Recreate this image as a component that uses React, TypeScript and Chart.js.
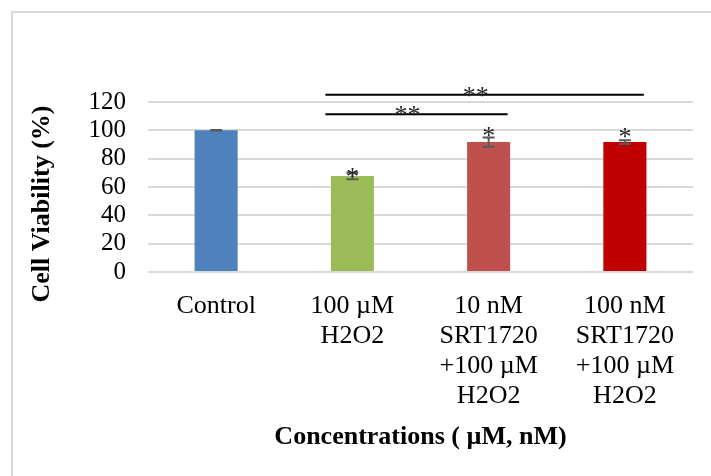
import React, { useEffect, useRef } from "react";
import { Chart, registerables } from "chart.js";

Chart.register(...registerables);

// ---- data ----
const categories: string[][] = [
  ["Control"],
  ["100 µM", "H2O2"],
  ["10 nM", "SRT1720", "+100 µM", "H2O2"],
  ["100 nM", "SRT1720", "+100 µM", "H2O2"],
];
const viability = [100, 67.8, 91.7, 91.7];
const errors = [0.2, 2.3, 3.2, 1.3];
const barColors = ["#4F81BD", "#9BBB59", "#C0504D", "#C00000"];
const starLevels: (number | null)[] = [null, 70, 99.1, 97.8];
const bracketFrom = [1, 1];
const bracketTo = [3, 2];
const bracketLevels = [125.1, 111.3];
const bracketLabels = ["**", "**"];
const yMin = 0;
const yMax = 120;
const yStep = 20;
const xTitle = "Concentrations ( µM, nM)";
const yTitle = "Cell Viability (%)";

const SERIF = '"Liberation Serif", "Times New Roman", serif';

function drawCenteredGlyph(ctx: CanvasRenderingContext2D, text: string, cx: number, cy: number) {
  const m = ctx.measureText(text);
  const asc = m.actualBoundingBoxAscent;
  const desc = m.actualBoundingBoxDescent;
  ctx.textAlign = "center";
  ctx.textBaseline = "alphabetic";
  ctx.fillText(text, cx, cy + (asc - desc) / 2);
}

const overlayPlugin = {
  id: "overlay",
  beforeDraw(chart: any) {
    const { ctx } = chart;
    ctx.save();
    ctx.fillStyle = "#ffffff";
    ctx.fillRect(0, 0, chart.width, chart.height);
    ctx.strokeStyle = "#D9D9D9";
    ctx.lineWidth = 2;
    ctx.strokeRect(12, 12, 800, 600);
    ctx.restore();
  },
  afterDraw(chart: any) {
    const { ctx } = chart;
    const xs = chart.scales.x;
    const ys = chart.scales.y;
    ctx.save();
    // error bars
    ctx.strokeStyle = "#595959";
    ctx.lineWidth = 2;
    viability.forEach((v, i) => {
      const cx = xs.getPixelForValue(i);
      const top = ys.getPixelForValue(v + errors[i]);
      const bot = ys.getPixelForValue(v - errors[i]);
      ctx.beginPath();
      ctx.moveTo(cx, top);
      ctx.lineTo(cx, bot);
      ctx.moveTo(cx - 6, top);
      ctx.lineTo(cx + 6, top);
      ctx.moveTo(cx - 6, bot);
      ctx.lineTo(cx + 6, bot);
      ctx.stroke();
    });
    // stars above bars
    ctx.fillStyle = "#262626";
    ctx.font = `26px ${SERIF}`;
    starLevels.forEach((s, i) => {
      if (s === null) return;
      drawCenteredGlyph(ctx, "*", xs.getPixelForValue(i), ys.getPixelForValue(s));
    });
    // significance brackets
    ctx.strokeStyle = "#000000";
    ctx.lineWidth = 2;
    bracketFrom.forEach((f, k) => {
      const x0 = xs.getPixelForValue(f) - 27;
      const x1 = xs.getPixelForValue(bracketTo[k]) + 19;
      const yy = ys.getPixelForValue(bracketLevels[k]);
      ctx.beginPath();
      ctx.moveTo(x0, yy);
      ctx.lineTo(x1, yy);
      ctx.stroke();
      ctx.fillStyle = "#262626";
      drawCenteredGlyph(ctx, bracketLabels[k], (x0 + x1) / 2 - 9, yy - 3);
    });
    // y axis title
    ctx.fillStyle = "#000000";
    ctx.font = `bold 26px ${SERIF}`;
    ctx.translate(42, 204);
    ctx.rotate(-Math.PI / 2);
    ctx.textAlign = "center";
    ctx.textBaseline = "middle";
    ctx.fillText(yTitle, 0, 0);
    ctx.restore();
  },
};

export default function App() {
  const canvasRef = useRef<HTMLCanvasElement | null>(null);

  useEffect(() => {
    if (!canvasRef.current) return;
    const chart = new Chart(canvasRef.current, {
      type: "bar",
      data: {
        labels: categories,
        datasets: [
          {
            data: viability,
            backgroundColor: barColors,
            borderWidth: 0,
            barPercentage: 0.316,
            categoryPercentage: 1,
          },
        ],
      },
      options: {
        responsive: false,
        animation: false,
        devicePixelRatio: 1,
        layout: { padding: { left: 0, right: 18, top: 102, bottom: 0 } },
        plugins: {
          legend: { display: false },
          tooltip: { enabled: false },
          title: { display: false },
        },
        scales: {
          x: {
            grid: { display: false, drawTicks: false },
            border: { display: false },
            ticks: {
              autoSkip: false,
              maxRotation: 0,
              minRotation: 0,
              padding: 19,
              color: "#000000",
              font: { family: SERIF, size: 26, lineHeight: 30 / 26 },
            },
            title: {
              display: true,
              text: xTitle,
              color: "#000000",
              font: { family: SERIF, size: 26, weight: "bold", lineHeight: 1.2 },
              padding: { top: 0, bottom: 23 },
            },
            afterFit: (s: any) => {
              s.height = 204;
            },
          },
          y: {
            min: yMin,
            max: yMax,
            grid: { color: "#D9D9D9", lineWidth: 2, drawTicks: false },
            border: { display: false },
            ticks: {
              stepSize: yStep,
              autoSkip: false,
              padding: 22,
              color: "#000000",
              font: { family: SERIF, size: 25 },
            },
            afterFit: (s: any) => {
              s.width = 148;
            },
          },
        },
      },
      plugins: [overlayPlugin],
    });
    return () => chart.destroy();
  }, []);

  return (
    <div style={{ position: "absolute", left: 0, top: 0, width: 711, height: 476, background: "#fff" }}>
      <canvas ref={canvasRef} width={711} height={476} style={{ display: "block" }} />
    </div>
  );
}
